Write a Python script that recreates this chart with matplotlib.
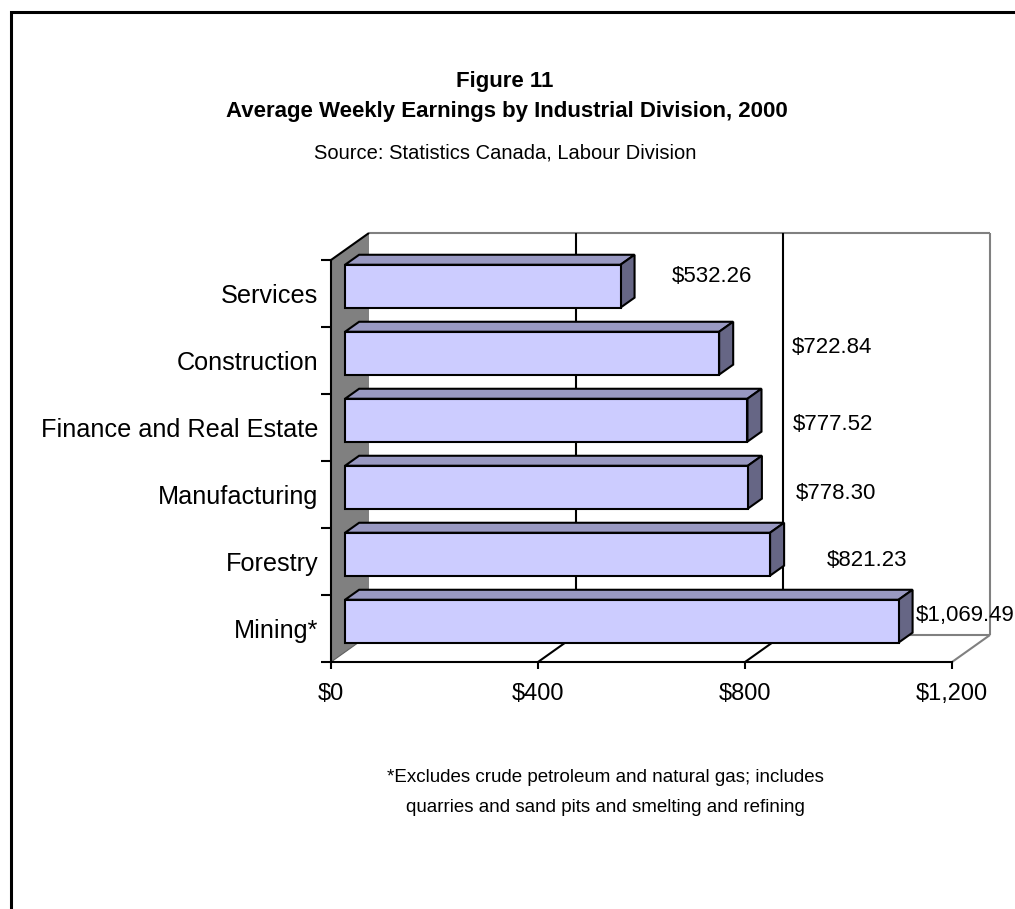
import matplotlib
matplotlib.use("Agg")
import matplotlib.pyplot as plt
from matplotlib.patches import Polygon, Rectangle
from matplotlib.lines import Line2D

plt.rcParams['font.family'] = ['Liberation Sans', 'DejaVu Sans']

# ---------------- data ----------------
categories = ["Mining*", "Forestry", "Manufacturing", "Finance and Real Estate",
              "Construction", "Services"]
earnings = [1069.49, 821.23, 778.30, 777.52, 722.84, 532.26]
value_labels = ["$1,069.49", "$821.23", "$778.30", "$777.52", "$722.84", "$532.26"]
x_ticks = [0, 400, 800, 1200]
x_tick_labels = ["$0", "$400", "$800", "$1,200"]

# ---------------- layout ----------------
label_dx = [60, 136, 119, 115, 167, 127]      # label offset from bar end ($ units)
label_dy = [0.70, 0.51, 0.52, 0.55, 0.69, 0.76]  # label offset within category band
XMAX = 1200
DX = 73.4      # oblique depth offset, $ units
DY = 0.403     # oblique depth offset, category units
Z0, Z1 = 0.37, 0.74   # bar depth range
B0, B1 = 0.14, 0.78   # bar extent within band

FRONT = "#CCCCFF"
TOP = "#9999C2"
SIDE = "#666685"
WALL = "#808080"
GRAY = "#808080"


def proj(x, y, z):
    return (x + z * DX, y + z * DY)


fig = plt.figure(figsize=(10.15, 9.09), dpi=100)
fig.patch.set_facecolor("white")
ax = fig.add_axes([331 / 1015, 1 - 662 / 909, (621 + 38) / 1015, (402 + 27) / 909])
ax.set_xlim(0, XMAX + DX)
ax.set_ylim(0, len(categories) + DY)
ax.set_facecolor("none")

for s in ["top", "right"]:
    ax.spines[s].set_visible(False)
ax.spines["left"].set_bounds(0, len(categories))
ax.spines["bottom"].set_bounds(0, XMAX)
for s in ["left", "bottom"]:
    ax.spines[s].set_linewidth(1.5)
    ax.spines[s].set_zorder(6)

ax.set_xticks(x_ticks)
ax.set_xticklabels(x_tick_labels, fontsize=17)
ax.tick_params(axis="x", direction="out", length=5, width=1.5, pad=10)
ax.set_yticks(range(len(categories) + 1))
ax.set_yticklabels([])
ax.tick_params(axis="y", which="major", direction="out", length=7, width=1.5)
ax.set_yticks([i + 0.5 for i in range(len(categories))], minor=True)
ax.set_yticklabels(categories, minor=True, fontsize=18.2)
ax.tick_params(axis="y", which="minor", length=0, pad=9)

# back wall edges and floor
def line(p, q, color, lw=1.5, z=1):
    ax.add_line(Line2D([p[0], q[0]], [p[1], q[1]], color=color, lw=lw,
                       zorder=z, clip_on=False, solid_capstyle="butt"))

n = len(categories)
line(proj(0, n, 1), proj(XMAX, n, 1), GRAY)
line(proj(XMAX, n, 1), proj(XMAX, 0, 1), GRAY)
line(proj(0, 0, 1), proj(XMAX, 0, 1), GRAY)
line(proj(XMAX, 0, 1), proj(XMAX, 0, 0), GRAY)
for xv in x_ticks[1:-1]:
    line(proj(xv, 0, 1), proj(xv, n, 1), "black")
    line(proj(xv, 0, 0), proj(xv, 0, 1), "black")

# side wall
side = [proj(0, 0, 0), proj(0, 0, 1), proj(0, n, 1), proj(0, n, 0)]
ax.add_patch(Polygon(side, closed=True, fc=WALL, ec="none", zorder=2, clip_on=False))
line(proj(0, n, 0), proj(0, n, 1), "black", z=3)
line(proj(0, 0, 0), proj(0, 0, 1), "#606060", lw=0.8, z=3)

# bars
for i, v in enumerate(earnings):
    y0, y1 = i + B0, i + B1
    front = [proj(0, y0, Z0), proj(v, y0, Z0), proj(v, y1, Z0), proj(0, y1, Z0)]
    top = [proj(0, y1, Z0), proj(v, y1, Z0), proj(v, y1, Z1), proj(0, y1, Z1)]
    sidef = [proj(v, y0, Z0), proj(v, y0, Z1), proj(v, y1, Z1), proj(v, y1, Z0)]
    for poly, col in [(top, TOP), (sidef, SIDE), (front, FRONT)]:
        ax.add_patch(Polygon(poly, closed=True, fc=col, ec="black", lw=1.5,
                             joinstyle="miter", zorder=4, clip_on=False))
    ax.text(v + label_dx[i], i + label_dy[i], value_labels[i], fontsize=16,
            ha="left", va="center", zorder=5, clip_on=False)

# titles and notes
fig.text(505 / 1015, 1 - 81 / 909, "Figure 11", ha="center", va="center",
         fontsize=16, fontweight="bold")
fig.text(507 / 1015, 1 - 112 / 909, "Average Weekly Earnings by Industrial Division, 2000",
         ha="center", va="center", fontsize=16, fontweight="bold")
fig.text(505 / 1015, 1 - 153 / 909, "Source: Statistics Canada, Labour Division",
         ha="center", va="center", fontsize=14.5)
fig.text(605 / 1015, 1 - 777 / 909, "*Excludes crude petroleum and natural gas; includes",
         ha="center", va="center", fontsize=13.5)
fig.text(605 / 1015, 1 - 808 / 909, "quarries and sand pits and smelting and refining",
         ha="center", va="center", fontsize=13.5)

# outer frame
fig.add_artist(Rectangle((11 / 1015, -0.1), 1.2, (909 - 12.5) / 909 + 0.1,
                         transform=fig.transFigure, fill=False, lw=2.2, ec="black"))

fig.savefig("out.png", dpi=100)
